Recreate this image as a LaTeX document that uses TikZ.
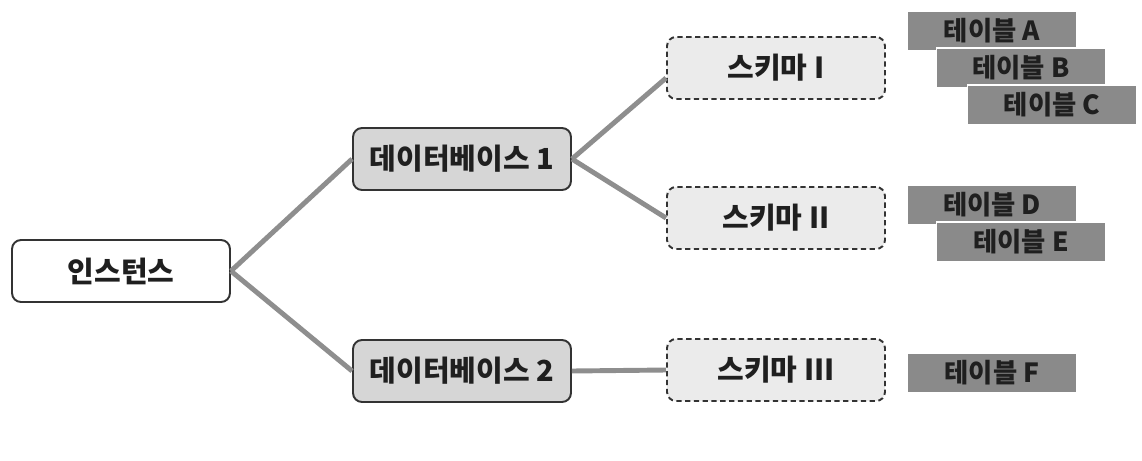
\documentclass[tikz,border=0pt]{standalone}
\usepackage{fontspec}
\setmainfont{Noto Sans CJK KR}
\usetikzlibrary{positioning}
\definecolor{linkgray}{HTML}{8E8E8E}
\definecolor{dbgray}{HTML}{D6D6D6}
\definecolor{schemagray}{HTML}{EBEBEB}
\definecolor{tablegray}{HTML}{8A8A8A}
\definecolor{edgedark}{HTML}{333333}
\tikzset{
  box/.style={rectangle,rounded corners=0.18cm,draw=edgedark,fill=#1,line width=1.1pt,
    minimum width=4.36cm,minimum height=1.24cm,text=black!88,
    font=\fontsize{16.5}{19}\selectfont\bfseries},
  schemabox/.style={box=schemagray,dash pattern=on 3pt off 2pt},
  tablebox/.style={rectangle,draw=white,fill=tablegray,line width=0.6pt,
    minimum width=3.38cm,minimum height=0.8cm,text=black!88,
    font=\fontsize{15}{17}\selectfont\bfseries},
  link/.style={line width=2.8pt,draw=linkgray},
}
\begin{document}
\begin{tikzpicture}[x=0.02cm,y=-0.02cm]
  \useasboundingbox (0,0) rectangle (1142,460);
  % tree levels
  \node[box=white] (inst) at (121,271) {인스턴스};
  \node[box=dbgray] (db1) at (462,159) {데이터베이스 1};
  \node[box=dbgray] (db2) at (462,371) {데이터베이스 2};
  \node[schemabox] (sch1) at (776,68) {스키마 I};
  \node[schemabox] (sch2) at (776,218) {스키마 II};
  \node[schemabox] (sch3) at (776,370) {스키마 III};
  % tables
  \node[tablebox] (tabA) at (992,31) {테이블 A};
  \node[tablebox] (tabB) at (1021,68) {테이블 B};
  \node[tablebox] (tabC) at (1052,105) {테이블 C};
  \node[tablebox] (tabD) at (992,205) {테이블 D};
  \node[tablebox] (tabE) at (1021,242) {테이블 E};
  \node[tablebox] (tabF) at (992,373) {테이블 F};
  % links
  \draw[link] (inst.east) -- (db1.west);
  \draw[link] (inst.east) -- (db2.west);
  \draw[link] (db1.east) -- ([yshift=-0.2cm]sch1.west);
  \draw[link] (db1.east) -- (sch2.west);
  \draw[link] (db2.east) -- (sch3.west);
\end{tikzpicture}
\end{document}
